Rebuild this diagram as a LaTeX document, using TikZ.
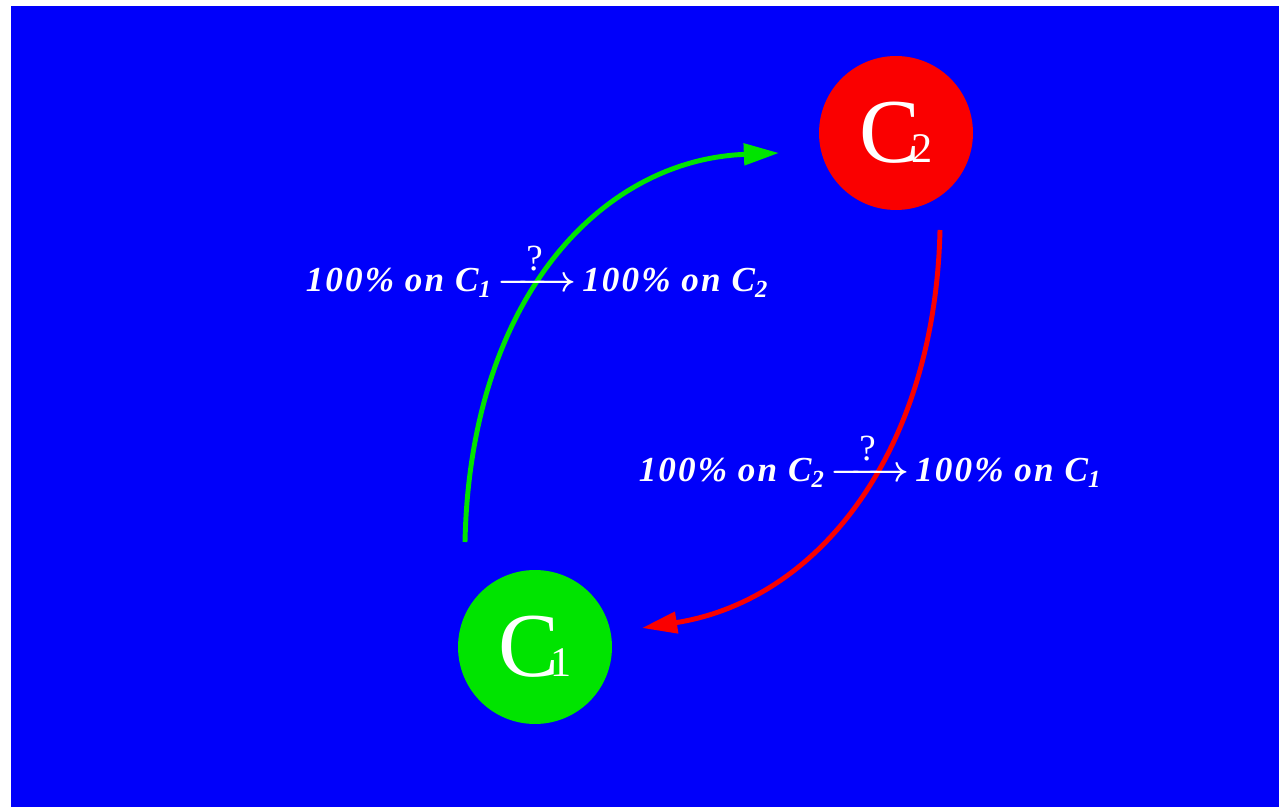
\documentclass[tikz,border=0pt]{standalone}
\usepackage{amsmath}
\usepackage{fontspec}
\setmainfont{Liberation Serif}
\usepackage{tikz}
\usetikzlibrary{arrows.meta,positioning}

\definecolor{bgblue}{RGB}{0,0,250}
\definecolor{cred}{RGB}{250,0,0}
\definecolor{cgreen}{RGB}{0,228,0}

\newcommand{\channame}[1]{\textup{C}\kern-0.1em{\fontsize{24}{24}\selectfont #1}}
\newcommand{\maybeto}{{\boldmath$\xrightarrow{\hbox to 1.6em{\hss\normalfont\fontsize{21}{21}\selectfont ?\hss}}$}}

\begin{document}
\begin{tikzpicture}[
  x=0.02cm, y=-0.02cm,
  chan/.style={circle, minimum size=3.08cm, inner sep=0pt, text=white,
    font=\fontsize{52}{60}\selectfont},
  lbl/.style={text=white, anchor=base, inner sep=0pt,
    font=\fontsize{20}{22}\selectfont\bfseries\itshape\addfontfeatures{LetterSpace=6}},
  flow/.style={line width=2.8pt, -{Triangle[length=20pt, width=12pt]}},
]
\useasboundingbox (0,0) rectangle (1279,807);
\fill[bgblue] (11,6) rectangle (1279,807);

\node[chan, fill=cred] (c2) at (896,133) {\channame{2}};
\node[chan, fill=cgreen] (c1) at (535,647) {\channame{1}};

% transfer arrows
\coordinate (gs) at (465,542);
\coordinate (ge) at (779,153);
\coordinate (rs) at (940,230);
\coordinate (re) at (642,628);
\draw[flow, cgreen] (gs) .. controls (470,300) and (600,160) .. (ge);
\draw[flow, cred] (rs) .. controls (935,450) and (820,600) .. (re);

\node[lbl] (up) at (537,292) {100\% on C\textsubscript{1}\,\maybeto\,100\% on C\textsubscript{2}};
\node[lbl] (down) at (870,482) {100\% on C\textsubscript{2}\,\maybeto\,100\% on C\textsubscript{1}};
\end{tikzpicture}
\end{document}
